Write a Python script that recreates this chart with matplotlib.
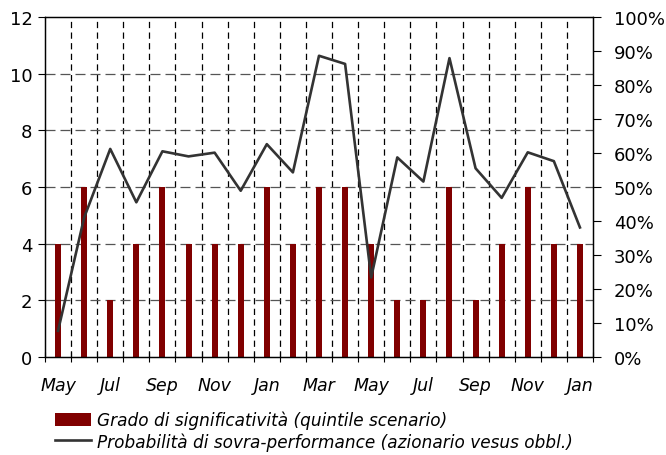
import matplotlib
matplotlib.use("Agg")
import matplotlib.pyplot as plt
from matplotlib.patches import Patch
from matplotlib.lines import Line2D
from matplotlib.ticker import FixedLocator, PercentFormatter

months = ["May", "Jun", "Jul", "Aug", "Sep", "Oct", "Nov", "Dec", "Jan", "Feb", "Mar",
          "Apr", "May", "Jun", "Jul", "Aug", "Sep", "Oct", "Nov", "Dec", "Jan"]
grado = [4, 6, 2, 4, 6, 4, 4, 4, 6, 4, 6, 6, 4, 2, 2, 6, 2, 4, 6, 4, 4]
probabilita = [0.077, 0.41, 0.612, 0.455, 0.605, 0.59, 0.601, 0.489, 0.626, 0.543, 0.886,
               0.862, 0.234, 0.587, 0.516, 0.879, 0.555, 0.468, 0.602, 0.576, 0.381]
left_ticks = [0, 2, 4, 6, 8, 10, 12]
right_ticks = [0, 0.1, 0.2, 0.3, 0.4, 0.5, 0.6, 0.7, 0.8, 0.9, 1.0]

bar_color = "#800000"
line_color = "#333333"
italic_font = ["DejaVu Sans"]

fig = plt.figure(figsize=(6.66, 4.56), dpi=100)
W, H = 666, 456
ax = fig.add_axes([45 / W, 1 - 358 / H, (593 - 45) / W, (358 - 18) / H])
ax2 = ax.twinx()

x = list(range(len(months)))
ax.bar(x, grado, width=0.23, color=bar_color, zorder=2)
ax2.plot(x, probabilita, color=line_color, lw=1.9, zorder=3)

n = len(months)
ax.set_xlim(-0.5, n - 0.5)
ax.set_ylim(0, 12)
ax2.set_ylim(0, 1)

# x axis: ticks at category boundaries, labels every other category
bounds = [i - 0.5 for i in range(n + 1)]
ax.xaxis.set_major_locator(FixedLocator(bounds))
ax.set_xticklabels([])
ax.tick_params(axis="x", which="major", direction="inout", length=7, width=0.8, color="black")
ax.set_xticks(x[::2], [months[i] for i in x[::2]], minor=True)
ax.tick_params(axis="x", which="minor", length=0, pad=14)
for lbl in ax.get_xticklabels(minor=True):
    lbl.set_fontfamily(italic_font)
    lbl.set_fontstyle("italic")
    lbl.set_fontsize(12.5)

# vertical dashed grid at boundaries
for b in bounds[1:-1]:
    ax.axvline(b, color="black", lw=0.9, ls=(0, (5, 3.5)), zorder=1)
# horizontal dashed grid
for t in left_ticks[1:-1]:
    ax.axhline(t, color="#555555", lw=0.9, ls=(0, (8, 4)), zorder=1)

ax.set_yticks(left_ticks)
ax.tick_params(axis="y", direction="out", length=5, width=0.8, labelsize=13, pad=4)
ax2.set_yticks(right_ticks)
ax2.yaxis.set_major_formatter(PercentFormatter(1.0, decimals=0))
ax2.tick_params(axis="y", direction="out", length=6, width=0.8, labelsize=13, pad=9)

for sp in ax.spines.values():
    sp.set_color("black")
    sp.set_linewidth(0.9)
for sp in ax2.spines.values():
    sp.set_color("black")
    sp.set_linewidth(0.9)

handles = [Patch(facecolor=bar_color, edgecolor="none"),
           Line2D([0], [0], color=line_color, lw=1.9)]
labels = ["Grado di significatività (quintile scenario)",
          "Probabilità di sovra-performance (azionario vesus obbl.)"]
fig.legend(handles, labels, loc="upper left", bbox_to_anchor=(55 / W, 1 - 412 / H),
           frameon=False, borderpad=0, borderaxespad=0, handlelength=2.1,
           handleheight=0.85, handletextpad=0.4, labelspacing=0.15,
           prop={"family": italic_font, "style": "italic", "size": 12.2})

fig.savefig("out.png", dpi=100)
